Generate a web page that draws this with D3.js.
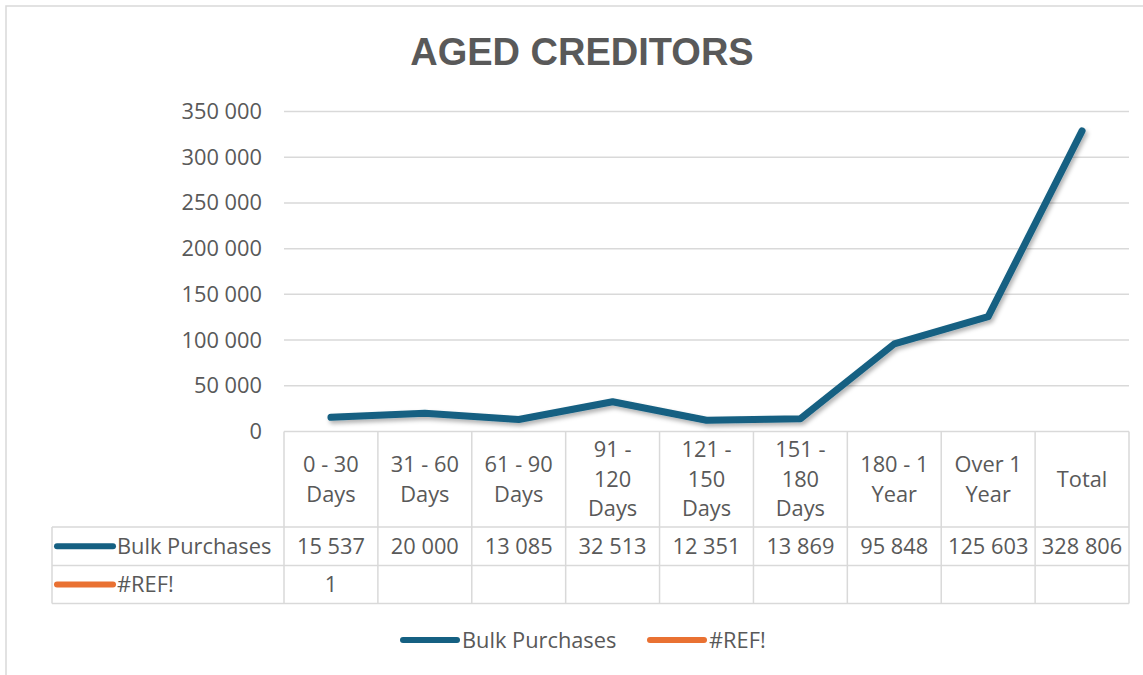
<!DOCTYPE html>
<html>
<head>
<meta charset="utf-8">
<script src="https://cdn.jsdelivr.net/npm/d3@7"></script>
<style>
  html, body { margin: 0; padding: 0; background: #fff; }
  svg { display: block; font-family: "Open Sans", "Liberation Sans", Arial, sans-serif; }
</style>
</head>
<body>
<svg id="chart" width="1143" height="675"></svg>
<script>
const title = "AGED CREDITORS";
const categories = [
  ["0 - 30", "Days"],
  ["31 - 60", "Days"],
  ["61 - 90", "Days"],
  ["91 -", "120", "Days"],
  ["121 -", "150", "Days"],
  ["151 -", "180", "Days"],
  ["180 - 1", "Year"],
  ["Over 1", "Year"],
  ["Total"]
];
const seriesNames = ["Bulk Purchases", "#REF!"];
const bulkPurchases = [15537, 20000, 13085, 32513, 12351, 13869, 95848, 125603, 328806];
const refValues = [1, null, null, null, null, null, null, null, null];
const yTicks = [0, 50000, 100000, 150000, 200000, 250000, 300000, 350000];
const colors = ["#156082", "#E97132"];

const textColor = "#595959";
const gridColor = "#d9d9d9";
const fontSize = 21.8;

const svg = d3.select("#chart");
const defs = svg.append("defs");
const f = defs.append("filter").attr("id", "shadow")
  .attr("x", "-10%").attr("y", "-10%").attr("width", "130%").attr("height", "130%");
f.append("feDropShadow").attr("dx", 2).attr("dy", 3).attr("stdDeviation", 2)
  .attr("flood-color", "#000").attr("flood-opacity", 0.3);

// Chart border
svg.append("rect").attr("x", 6).attr("y", 6).attr("width", 1160).attr("height", 700)
  .attr("fill", "none").attr("stroke", gridColor).attr("stroke-width", 1.5);

// Title
svg.append("text").attr("x", 582).attr("y", 65).attr("text-anchor", "middle")
  .attr("font-size", 38).attr("font-weight", "bold").attr("fill", textColor)
  .attr("font-family", "Liberation Sans, Arial, sans-serif")
  .text(title);

const plotLeft = 284, plotRight = 1129, plotTop = 111.5, plotBottom = 431.5;

const x = d3.scaleBand().domain(d3.range(categories.length)).range([plotLeft, plotRight]);
const y = d3.scaleLinear().domain([0, 350000]).range([plotBottom, plotTop]);

const locale = d3.formatLocale({ decimal: ",", thousands: " ", grouping: [3], currency: ["", ""] });
const fmt = locale.format(",d");

// Gridlines + y labels via axis
const yAxis = d3.axisLeft(y).tickValues(yTicks).tickFormat(fmt).tickSize(0).tickPadding(22);
const gy = svg.append("g").attr("transform", `translate(${plotLeft},0)`).call(yAxis);
gy.select(".domain").remove();
gy.selectAll("text").attr("font-size", fontSize).attr("fill", textColor)
  .attr("font-family", "Open Sans, Liberation Sans, Arial, sans-serif");

svg.append("g").selectAll("line").data(yTicks.filter(d => d > 0)).join("line")
  .attr("x1", plotLeft).attr("x2", plotRight)
  .attr("y1", d => y(d)).attr("y2", d => y(d))
  .attr("stroke", gridColor).attr("stroke-width", 1.5);

// Data table
const headerBottom = 527, row1Bottom = 565.5, row2Bottom = 603.5, tableLeft = 52;
const tbl = svg.append("g").attr("stroke", gridColor).attr("stroke-width", 1.5).attr("fill", "none");
tbl.append("line").attr("x1", plotLeft).attr("x2", plotRight).attr("y1", plotBottom).attr("y2", plotBottom);
[headerBottom, row1Bottom, row2Bottom].forEach(yy => {
  tbl.append("line").attr("x1", tableLeft).attr("x2", plotRight).attr("y1", yy).attr("y2", yy);
});
const vx = d3.range(categories.length + 1).map(i => i < categories.length ? x(i) : plotRight);
vx.forEach(xx => {
  tbl.append("line").attr("x1", xx).attr("x2", xx).attr("y1", plotBottom).attr("y2", row2Bottom);
});
tbl.append("line").attr("x1", tableLeft).attr("x2", tableLeft).attr("y1", headerBottom).attr("y2", row2Bottom);

// header labels
const lineH = 29.5;
const hdrCenter = (plotBottom + headerBottom) / 2;
categories.forEach((lines, i) => {
  const t = svg.append("text").attr("text-anchor", "middle").attr("font-size", fontSize).attr("fill", textColor);
  const startY = hdrCenter - (lines.length - 1) * lineH / 2;
  lines.forEach((ln, j) => {
    t.append("tspan").attr("x", x(i) + x.bandwidth() / 2).attr("y", startY + j * lineH)
      .attr("dy", "0.35em").text(ln);
  });
});

// values rows
const rows = [bulkPurchases, refValues];
const rowCenters = [(headerBottom + row1Bottom) / 2, (row1Bottom + row2Bottom) / 2];
rows.forEach((vals, r) => {
  svg.append("g").selectAll("text").data(vals).join("text")
    .attr("x", (d, i) => x(i) + x.bandwidth() / 2).attr("y", rowCenters[r]).attr("dy", "0.35em")
    .attr("text-anchor", "middle").attr("font-size", fontSize).attr("fill", textColor)
    .text(d => d == null ? "" : fmt(d));
  svg.append("line").attr("x1", 57).attr("x2", 113).attr("y1", rowCenters[r]).attr("y2", rowCenters[r])
    .attr("stroke", colors[r]).attr("stroke-width", 6).attr("stroke-linecap", "round");
  svg.append("text").attr("x", 117).attr("y", rowCenters[r]).attr("dy", "0.35em")
    .attr("font-size", fontSize).attr("fill", textColor).text(seriesNames[r]);
});

// Lines
const lineGen = d3.line().defined(d => d != null)
  .x((d, i) => x(i) + x.bandwidth() / 2).y(d => y(d));
svg.append("path").datum(bulkPurchases).attr("d", lineGen)
  .attr("fill", "none").attr("stroke", colors[0]).attr("stroke-width", 7)
  .attr("stroke-linejoin", "round").attr("stroke-linecap", "round")
  .attr("filter", "url(#shadow)");
// single-point series: Excel draws nothing visible for it
svg.append("path").datum(refValues).attr("d", lineGen)
  .attr("fill", "none").attr("stroke", colors[1]).attr("stroke-width", 7)
  .attr("stroke-linejoin", "round").attr("stroke-linecap", "butt");

// Bottom legend
const legendY = 640;
const legendItems = [{ x: 403, tx: 462 }, { x: 650, tx: 709 }];
legendItems.forEach((it, k) => {
  svg.append("line").attr("x1", it.x).attr("x2", it.x + 54).attr("y1", legendY).attr("y2", legendY)
    .attr("stroke", colors[k]).attr("stroke-width", 6).attr("stroke-linecap", "round");
  svg.append("text").attr("x", it.tx).attr("y", legendY).attr("dy", "0.35em")
    .attr("font-size", fontSize).attr("fill", textColor).text(seriesNames[k]);
});
</script>
</body>
</html>
